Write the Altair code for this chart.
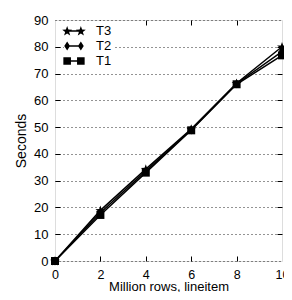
import altair as alt
import pandas as pd
import numpy as np

rows_m = [0, 2, 4, 6, 8, 10]
t1 = [0, 17.2, 33.0, 48.8, 66.0, 76.8]
t2 = [0, 18.0, 33.6, 49.0, 66.2, 78.2]
t3 = [0, 18.9, 34.3, 49.3, 66.4, 80.0]
series_names = ["T3", "T2", "T1"]
x_ticks = [0, 2, 4, 6, 8, 10]
y_ticks = [0, 10, 20, 30, 40, 50, 60, 70, 80, 90]

df = pd.concat([
    pd.DataFrame({"x": rows_m, "y": t3, "s": "T3"}),
    pd.DataFrame({"x": rows_m, "y": t2, "s": "T2"}),
    pd.DataFrame({"x": rows_m, "y": t1, "s": "T1"}),
])

W, H = 227, 241
FONT = "Liberation Sans"


def fmt(v):
    return f"{v:.3f}"


def star_path(cx, cy, ro, ri):
    pts = []
    for k in range(10):
        a = -np.pi / 2 + k * np.pi / 5
        r = ro if k % 2 == 0 else ri
        pts.append((cx + r * np.cos(a), cy + r * np.sin(a)))
    return "M" + "L".join(f"{fmt(px)},{fmt(py)}" for px, py in pts) + "Z"


def square_path(cx, cy, h):
    return f"M{fmt(cx-h)},{fmt(cy-h)}L{fmt(cx+h)},{fmt(cy-h)}L{fmt(cx+h)},{fmt(cy+h)}L{fmt(cx-h)},{fmt(cy+h)}Z"


def diamond_path(cx, cy, hw, hh):
    return f"M{fmt(cx)},{fmt(cy-hh)}L{fmt(cx+hw)},{fmt(cy)}L{fmt(cx)},{fmt(cy+hh)}L{fmt(cx-hw)},{fmt(cy)}Z"


# data marker shapes (size 64 -> unit = 4px)
shape_star = star_path(0, 0.1, 1.3, 0.52)
shape_diamond = diamond_path(0, 0, 0.75, 1.15)
shape_square = square_path(0, 0, 1.0)

# legend sample shapes (symbolSize 256 -> unit = 8px)
U = 8.0
mc = 6.85 / U
line = f"M{fmt(-mc)},{fmt(-0.75/U)}L{fmt(mc)},{fmt(-0.75/U)}L{fmt(mc)},{fmt(0.75/U)}L{fmt(-mc)},{fmt(0.75/U)}Z"
leg_star = line + star_path(-mc, 0.3 / U, 5.2 / U, 2.1 / U) + star_path(mc, 0.3 / U, 5.2 / U, 2.1 / U)
leg_diamond = line + diamond_path(-mc, 0, 2.9 / U, 4.6 / U) + diamond_path(mc, 0, 2.9 / U, 4.6 / U)
leg_square = line + square_path(-mc, 0, 3.8 / U) + square_path(mc, 0, 3.8 / U)

xscale = alt.Scale(domain=[0, 10], nice=False, zero=False)
yscale = alt.Scale(domain=[0, 90], nice=False, zero=False)

x_main = alt.X("x:Q", scale=xscale, axis=alt.Axis(
    values=x_ticks, ticks=False, tickSize=0, domain=False, grid=False,
    labelFontSize=12.5, labelPadding=7, labelColor="black", labelFont=FONT,
    title="Million rows, lineitem", titleFontSize=13, titleFont=FONT,
    titleFontWeight="normal", titleColor="black",
    titleBaseline="alphabetic", titleY=29,
    labelFlush=False, labelOverlap=False))
y_main = alt.Y("y:Q", scale=yscale, axis=alt.Axis(
    values=y_ticks, ticks=False, tickSize=0, domain=False, grid=True,
    gridColor="black", gridDash=[1, 3], gridWidth=1, gridOpacity=0.85,
    labelFontSize=13, labelPadding=7, labelColor="black", labelFont=FONT,
    title="Seconds", titleFontSize=14, titleFont=FONT,
    titleFontWeight="normal", titleColor="black", titlePadding=5,
    labelFlush=False, labelOverlap=False))

lines = alt.Chart(df).mark_line(color="black", strokeWidth=1.5).encode(
    x=x_main, y=y_main, detail="s:N")

points = alt.Chart(df).mark_point(filled=True, color="black", size=64, opacity=1, strokeWidth=0).encode(
    x=alt.X("x:Q", scale=xscale, axis=None),
    y=alt.Y("y:Q", scale=yscale, axis=None),
    shape=alt.Shape("s:N", scale=alt.Scale(domain=series_names,
                                           range=[shape_star, shape_diamond, shape_square]),
                    legend=None),
)

legend_layer = alt.Chart(df).mark_point(filled=True, color="black", opacity=0, strokeWidth=0).encode(
    x=alt.X("x:Q", scale=xscale, axis=None),
    y=alt.Y("y:Q", scale=yscale, axis=None),
    shape=alt.Shape("s:N", scale=alt.Scale(domain=series_names,
                                           range=[leg_star, leg_diamond, leg_square]),
                    legend=alt.Legend(
                        title=None, orient="none", legendX=9, legendY=1,
                        symbolSize=256, symbolFillColor="black", symbolStrokeWidth=0,
                        symbolStrokeColor="black", symbolOpacity=1,
                        labelFontSize=13, labelFont=FONT, labelColor="black",
                        labelOffset=14, rowPadding=0, padding=2,
                        fillColor="white")),
)

tick_common = dict(labels=False, domain=False, grid=False, ticks=True,
                   tickSize=5, tickColor="black", tickWidth=1, title=None)

ticks_a = alt.Chart(df).mark_point(opacity=0).encode(
    x=alt.X("x:Q", scale=xscale, axis=alt.Axis(orient="top", offset=-H, values=[2, 4, 6, 8], **tick_common)),
    y=alt.Y("y:Q", scale=yscale, axis=alt.Axis(orient="right", offset=-W, values=y_ticks[1:-1], **tick_common)),
)
ticks_b = alt.Chart(df).mark_point(opacity=0).encode(
    x=alt.X("x:Q", scale=xscale, axis=alt.Axis(orient="bottom", offset=-H, values=[2, 4, 6, 8], **tick_common)),
    y=alt.Y("y:Q", scale=yscale, axis=alt.Axis(orient="left", offset=-W, values=y_ticks[1:-1], **tick_common)),
)

chart = alt.layer(lines, points, legend_layer, ticks_a, ticks_b).resolve_axis(
    x="independent", y="independent"
).resolve_scale(shape="independent").properties(
    width=W, height=H,
    autosize=alt.AutoSizeParams(type="none"),
    padding={"left": 47, "top": 12, "right": 2, "bottom": 31},
).configure_view(stroke="black", strokeWidth=1.5).configure(background="white")

chart.save("out.html", embed_options={"renderer": "svg", "actions": False})
